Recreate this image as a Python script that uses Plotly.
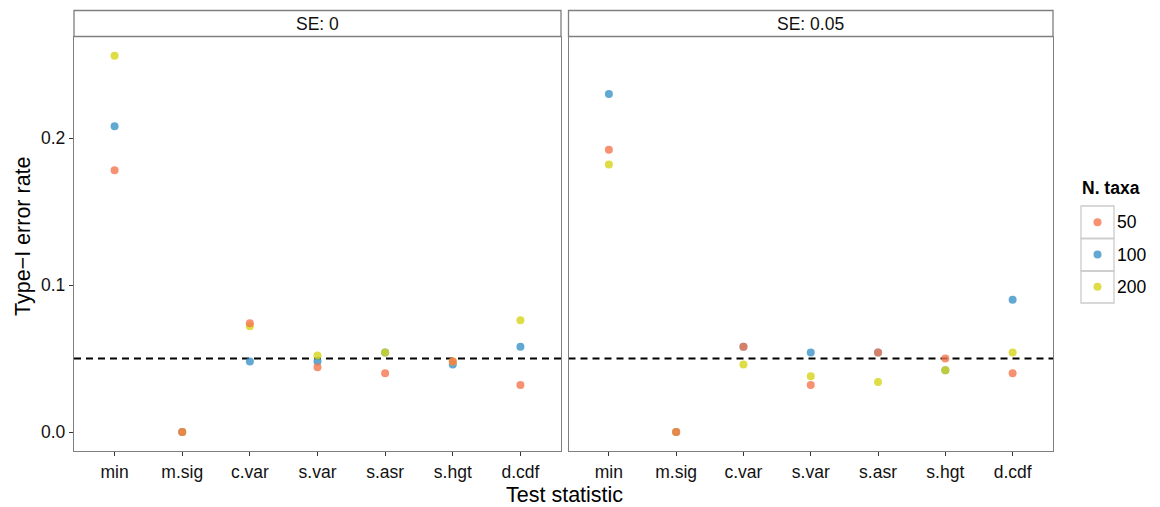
import plotly.graph_objects as go

categories = ["min", "m.sig", "c.var", "s.var", "s.asr", "s.hgt", "d.cdf"]
panels = ["SE: 0", "SE: 0.05"]
taxa = ["50", "100", "200"]

# Type-I error rates, per panel, per N. taxa
se0_50 = [0.178, 0.0, 0.074, 0.044, 0.040, 0.048, 0.032]
se0_100 = [0.208, 0.0, 0.048, 0.048, 0.054, 0.046, 0.058]
se0_200 = [0.256, 0.0, 0.072, 0.052, 0.054, 0.048, 0.076]
se05_50 = [0.192, 0.0, 0.058, 0.032, 0.054, 0.050, 0.040]
se05_100 = [0.230, 0.0, 0.058, 0.054, 0.054, 0.042, 0.090]
se05_200 = [0.182, 0.0, 0.046, 0.038, 0.034, 0.042, 0.054]
nominal = 0.05

colors = {"50": "#F4754F", "100": "#3A92C8", "200": "#D6D516"}
data = {
    ("SE: 0", "50"): se0_50, ("SE: 0", "100"): se0_100, ("SE: 0", "200"): se0_200,
    ("SE: 0.05", "50"): se05_50, ("SE: 0.05", "100"): se05_100, ("SE: 0.05", "200"): se05_200,
}

fig = go.Figure()
draw_order = ["100", "200", "50"]
for pi, panel in enumerate(panels):
    xa = "x" if pi == 0 else "x2"
    ya = "y" if pi == 0 else "y2"
    for t in draw_order:
        fig.add_trace(go.Scatter(
            x=categories, y=data[(panel, t)], mode="markers",
            marker=dict(size=8, color=colors[t], opacity=0.8, line=dict(width=0)),
            xaxis=xa, yaxis=ya, name=t, showlegend=False, cliponaxis=False,
        ))

# legend points on a hidden axis
fig.add_trace(go.Scatter(
    x=[0, 0, 0], y=[2, 1, 0], mode="markers",
    marker=dict(size=8, color=[colors[t] for t in taxa], opacity=0.8),
    xaxis="x3", yaxis="y3", showlegend=False, hoverinfo="skip",
))

W, H = 1160, 507

def px_x(p):
    return p / W

def px_y(p):
    return (H - p) / H

ydom = [px_y(451), px_y(36.5)]
x1dom = [px_x(74), px_x(561)]
x2dom = [px_x(568.5), px_x(1053)]
yrange = [-(451 - 432) / 1470, (432 - 36.5) / 1470]

FONT = "Liberation Sans, Arial, Helvetica, sans-serif"
SMALL = 17.5
BIG = 21.5
axis_common = dict(
    showgrid=False, zeroline=False, showline=True, linecolor="#7f7f7f", linewidth=1.3,
    mirror=True, ticks="outside", ticklen=4, tickwidth=1.3, tickcolor="#333333",
    tickfont=dict(family=FONT, size=SMALL, color="#111111"),
)
cat_range = [-0.6, 6.6]

fig.update_layout(
    width=W, height=H, margin=dict(l=0, r=0, t=0, b=0, autoexpand=False),
    plot_bgcolor="white", paper_bgcolor="white", showlegend=False,
    font=dict(family=FONT, color="#000000"),
    xaxis=dict(domain=x1dom, anchor="y", type="category", categoryorder="array",
               categoryarray=categories, range=cat_range, ticklabelstandoff=1, **axis_common),
    xaxis2=dict(domain=x2dom, anchor="y2", type="category", categoryorder="array",
                categoryarray=categories, range=cat_range, ticklabelstandoff=1, **axis_common),
    yaxis=dict(domain=ydom, anchor="x", range=yrange, tickvals=[0, 0.1, 0.2],
               tickformat=".1f", **axis_common),
    yaxis2=dict(domain=ydom, anchor="x2", range=yrange, tickvals=[0, 0.1, 0.2],
                showticklabels=False, ticks="",
                **{k: v for k, v in axis_common.items() if k not in ("ticks",)}),
    xaxis3=dict(domain=[px_x(1081), px_x(1114)], range=[-0.5, 0.5], visible=False,
                anchor="y3", fixedrange=True),
    yaxis3=dict(domain=[px_y(303), px_y(206)], range=[-0.5, 2.5], visible=False,
                anchor="x3", fixedrange=True),
)

shapes = []
# dashed nominal line
for xr, yr in (("x domain", "y"), ("x2 domain", "y2")):
    shapes.append(dict(type="line", xref=xr, yref=yr, x0=0, x1=1, y0=nominal, y1=nominal,
                       line=dict(color="black", width=2, dash="7px,5px"), layer="below"))
# strips
for dom in (x1dom, x2dom):
    shapes.append(dict(type="rect", xref="paper", yref="paper", x0=dom[0], x1=dom[1],
                       y0=ydom[1], y1=px_y(10.5), fillcolor="white",
                       line=dict(color="#7f7f7f", width=1.3)))
# legend boxes
for top, bot in ((206, 238.5), (238.5, 271), (271, 303)):
    shapes.append(dict(type="rect", xref="paper", yref="paper", x0=px_x(1081), x1=px_x(1114),
                       y0=px_y(bot), y1=px_y(top), fillcolor="rgba(0,0,0,0)",
                       line=dict(color="#cccccc", width=1.3), layer="below"))
fig.update_layout(shapes=shapes)

ann = []
for dom, label in zip((x1dom, x2dom), panels):
    ann.append(dict(text=label, xref="paper", yref="paper", x=(dom[0] + dom[1]) / 2,
                    y=px_y(23.5), showarrow=False, font=dict(size=SMALL, color="#111111"),
                    xanchor="center", yanchor="middle"))
ann.append(dict(text="Test statistic", xref="paper", yref="paper", x=px_x(564), y=px_y(495),
                showarrow=False, font=dict(size=BIG), xanchor="center", yanchor="middle"))
ann.append(dict(text="Type\u2212I error rate", xref="paper", yref="paper", x=px_x(23),
                y=px_y(236), showarrow=False, font=dict(size=BIG), textangle=-90,
                xanchor="center", yanchor="middle"))
ann.append(dict(text="<b>N. taxa</b>", xref="paper", yref="paper", x=px_x(1080), y=px_y(188),
                showarrow=False, font=dict(size=SMALL), xanchor="left", yanchor="middle"))
for lab, cy in zip(taxa, (222, 255, 287)):
    ann.append(dict(text=lab, xref="paper", yref="paper", x=px_x(1115), y=px_y(cy),
                    showarrow=False, font=dict(size=SMALL), xanchor="left", yanchor="middle"))
fig.update_layout(annotations=ann)

fig.write_html("out.html", config={"displayModeBar": False},
               post_script="document.body.style.margin='0';document.body.style.overflow='hidden';")
